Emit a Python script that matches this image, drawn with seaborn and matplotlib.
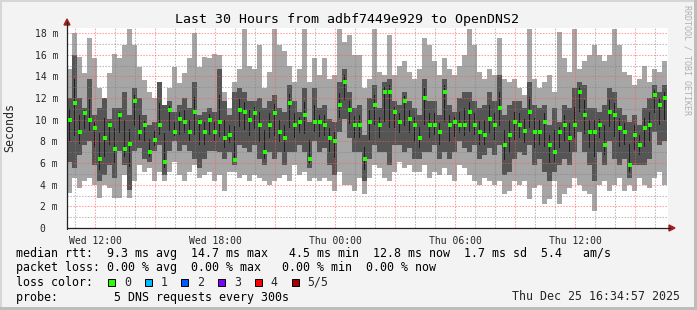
import numpy as np
import matplotlib
matplotlib.use("Agg")
import matplotlib.pyplot as plt
from matplotlib.patches import Rectangle, Polygon
from matplotlib.lines import Line2D
import seaborn as sns

# ---------------- data (ms), one value per 15-minute slot, 30 hours ----------------
ping_hi = [14.7, 18.0, 15.8, 14.3, 17.5, 15.7, 12.9, 12.0, 14.3, 16.1, 15.7, 16.9, 18.4, 16.9, 14.9,
           13.7, 12.6, 12.0, 11.0, 11.3, 12.9, 14.9, 13.4, 14.3, 15.7, 18.0, 14.9, 15.8, 15.7, 16.1,
           16.0, 12.6, 11.1, 13.5, 14.7, 18.4, 15.0, 14.7, 16.9, 12.9, 14.4, 18.4, 16.9, 16.3, 15.0,
           13.5, 14.7, 18.4, 13.5, 15.7, 14.1, 15.7, 13.8, 14.1, 18.4, 17.2, 17.8, 16.0, 16.0, 12.9,
           13.8, 18.4, 14.4, 14.1, 17.8, 14.1, 15.0, 15.4, 14.4, 13.8, 14.7, 17.5, 16.9, 15.4, 14.1,
           15.7, 14.7, 14.1, 15.0, 16.0, 18.4, 16.9, 14.4, 13.8, 14.7, 14.1, 17.5, 13.8, 13.5, 13.8,
           12.9, 12.3, 18.4, 13.8, 12.9, 13.5, 14.1, 12.6, 18.1, 15.7, 14.4, 18.4, 14.7, 15.4, 16.0,
           16.9, 16.0, 15.4, 16.0, 18.4, 16.9, 14.4, 14.1, 13.2, 13.8, 15.0, 13.5, 14.7, 14.4, 15.4]
ping_q3 = [12.0, 16.0, 12.0, 11.1, 13.8, 10.4, 11.1, 12.0, 10.1, 11.1, 11.1, 12.6, 10.4, 12.9, 12.0,
           10.4, 9.5, 9.8, 13.5, 11.4, 11.7, 10.7, 11.4, 12.0, 11.1, 13.5, 10.4, 10.7, 11.1, 10.7,
           14.7, 11.7, 10.4, 12.6, 12.9, 12.6, 11.7, 11.7, 12.0, 11.1, 11.7, 12.3, 11.1, 10.7, 13.2,
           11.7, 10.7, 12.9, 9.8, 12.9, 11.1, 11.4, 10.1, 9.8, 13.5, 14.7, 12.6, 11.1, 11.4, 8.6,
           12.0, 13.2, 11.05, 13.5, 13.8, 11.7, 11.4, 12.6, 11.7, 11.05, 10.4, 13.8, 11.7, 11.7, 10.4,
           13.8, 11.4, 10.7, 12.0, 12.6, 12.6, 11.7, 11.05, 11.4, 12.6, 11.7, 14.1, 10.4, 11.4, 11.7,
           11.7, 11.05, 13.5, 11.4, 11.05, 11.4, 9.5, 11.05, 9.8, 11.4, 11.05, 12.9, 13.5, 13.2, 11.05,
           11.05, 10.7, 11.4, 12.9, 12.6, 11.05, 10.4, 9.8, 10.4, 9.5, 11.05, 12.0, 13.2, 12.6, 13.2]
ping_med = [10.0, 11.5, 8.9, 10.6, 10.0, 9.2, 6.4, 8.3, 9.5, 7.3, 10.4, 7.3, 7.8, 11.7, 8.9,
            9.5, 7.0, 8.1, 9.5, 6.1, 10.9, 8.9, 10.1, 9.8, 8.9, 10.7, 9.8, 8.9, 10.0, 8.9,
            9.8, 8.3, 8.6, 6.3, 10.9, 10.7, 10.0, 10.6, 9.5, 7.0, 9.5, 10.6, 8.9, 8.3, 11.5,
            9.5, 9.8, 10.4, 6.4, 9.8, 9.8, 9.5, 8.3, 8.0, 11.4, 13.5, 10.9, 9.5, 9.5, 6.4,
            9.8, 11.4, 9.5, 12.6, 12.6, 10.7, 9.8, 11.7, 10.1, 9.5, 8.3, 12.0, 9.5, 9.5, 8.9,
            12.6, 9.5, 9.8, 9.5, 9.5, 10.7, 9.5, 8.9, 8.6, 10.1, 9.5, 11.05, 7.7, 8.6, 9.8,
            9.5, 9.0, 10.7, 8.9, 8.9, 9.8, 7.7, 7.05, 8.9, 9.5, 8.3, 9.5, 12.6, 10.4, 8.9,
            8.9, 9.5, 7.7, 10.7, 10.4, 9.2, 8.9, 5.8, 8.6, 7.7, 9.2, 9.5, 12.3, 11.4, 12.0]
ping_q1 = [6.1, 5.5, 6.7, 7.7, 8.0, 5.8, 4.3, 4.9, 5.8, 4.6, 7.1, 5.8, 3.5, 7.1, 7.4,
           6.4, 6.1, 7.1, 7.7, 4.9, 7.1, 8.0, 7.1, 7.7, 7.1, 6.4, 5.5, 6.4, 7.1, 7.1,
           7.05, 6.4, 7.05, 5.8, 7.7, 7.4, 7.05, 7.7, 6.4, 5.8, 7.05, 6.4, 7.05, 5.8, 7.05,
           7.05, 7.7, 7.05, 5.5, 8.0, 7.05, 7.4, 5.8, 4.9, 8.9, 10.1, 8.3, 7.05, 7.05, 4.3,
           6.4, 7.7, 7.05, 7.05, 5.8, 7.7, 7.7, 7.05, 7.4, 6.4, 6.4, 7.05, 7.05, 7.7, 6.4,
           7.05, 6.4, 7.05, 8.0, 7.4, 7.05, 7.7, 6.4, 6.7, 7.4, 6.7, 7.7, 4.9, 5.2, 6.4,
           7.05, 6.7, 7.7, 5.8, 6.4, 5.2, 4.3, 5.2, 5.8, 6.4, 5.8, 7.05, 8.9, 7.05, 5.8,
           4.3, 7.05, 5.8, 8.0, 6.4, 5.8, 6.4, 4.6, 5.8, 5.8, 5.8, 6.4, 8.9, 7.7, 8.0]
ping_lo = [3.2, 4.6, 3.7, 4.3, 4.6, 4.0, 2.8, 4.0, 3.7, 2.8, 2.8, 4.9, 2.8, 4.3, 5.8,
           5.2, 5.5, 4.3, 5.2, 4.3, 5.2, 6.1, 4.9, 4.3, 5.2, 5.8, 4.6, 4.9, 5.2, 4.3,
           4.9, 3.4, 5.2, 5.2, 4.6, 4.9, 4.3, 4.9, 4.6, 4.3, 4.0, 4.3, 4.6, 4.9, 4.3,
           5.8, 4.9, 5.2, 4.3, 4.6, 4.3, 4.6, 4.3, 3.4, 5.2, 4.0, 4.0, 3.4, 4.6, 3.1,
           4.6, 5.8, 5.5, 4.6, 4.3, 5.2, 6.1, 5.5, 5.8, 5.2, 5.2, 5.8, 4.6, 5.2, 4.9,
           5.5, 4.9, 4.3, 5.8, 5.5, 4.9, 4.3, 4.0, 4.6, 4.3, 4.0, 4.3, 3.1, 3.4, 4.3,
           4.0, 4.3, 2.7, 3.7, 4.0, 2.2, 2.7, 4.3, 2.2, 3.1, 3.7, 4.6, 4.0, 3.4, 3.1,
           1.6, 4.0, 4.3, 3.4, 4.0, 4.6, 3.4, 4.0, 3.4, 4.6, 4.0, 3.7, 4.6, 5.2, 4.0]

slot_hours = 0.25                      # width of one slot in hours
first_tick_offset = 85 / 60            # Wed 12:00 is 1h25m after the left edge
time_labels = ["Wed 12:00", "Wed 18:00", "Thu 00:00", "Thu 06:00", "Thu 12:00"]
y_ticks = [0, 2, 4, 6, 8, 10, 12, 14, 16, 18]
y_tick_labels = ["0  ", "2 m", "4 m", "6 m", "8 m", "10 m", "12 m", "14 m", "16 m", "18 m"]
loss_labels = ["0", "1", "2", "3", "4", "5/5"]
loss_colors = ["#26ff00", "#00b8ff", "#0059ff", "#7e00ff", "#ff0000", "#a00000"]

title = "Last 30 Hours from adbf7449e929 to OpenDNS2"
stat_lines = [
    "median rtt:  9.3 ms avg  14.7 ms max   4.5 ms min  12.8 ms now  1.7 ms sd  5.4   am/s",
    "packet loss: 0.00 % avg  0.00 % max   0.00 % min  0.00 % now",
    "loss color:",
    "probe:        5 DNS requests every 300s",
]
stamp = "Thu Dec 25 16:34:57 2025"
credit = "RRDTOOL / TOBI OETIKER"

# ---------------- style ----------------
sns.set_style("white")
MONO = ["DejaVu Sans Mono"]
plt.rcParams["font.family"] = MONO

W, H = 697, 310
fig = plt.figure(figsize=(W / 100, H / 100), dpi=100)
fig.patch.set_facecolor("#f3f3f3")

def fx(px):
    return px / W

def fy(py):
    return 1 - py / H

ax_left, ax_right, ax_top, ax_bot = 67, 668, 28, 228
ax = fig.add_axes([fx(ax_left), fy(ax_bot), fx(ax_right - ax_left), (ax_bot - ax_top) / H])
ax.set_facecolor("white")

n = len(ping_med)
xs = np.arange(n) * slot_hours + slot_hours / 2
hi = np.array(ping_hi); q3 = np.array(ping_q3); med = np.array(ping_med)
q1 = np.array(ping_q1); lo = np.array(ping_lo)

ax.bar(xs, hi - lo, bottom=lo, width=slot_hours, color="#a6a6a6", linewidth=0, zorder=2)
ax.bar(xs, q3 - q1, bottom=q1, width=slot_hours, color="#555555", linewidth=0, zorder=3)
core_lo = (q1 + med) / 2
core_hi = (med + q3) / 2
ax.bar(xs, core_hi - core_lo, bottom=core_lo, width=slot_hours * 0.2, color="#1e1e1e",
       linewidth=0, zorder=3.5)
sns.scatterplot(x=xs, y=med, marker="s", color=loss_colors[0], s=7, linewidth=0,
                ax=ax, zorder=6, legend=False)

xmax = (ax_right - ax_left) / 20.0
ax.set_xlim(0, xmax)
ymax = (ax_bot - ax_top) / 10.83
ax.set_ylim(0, ymax)

# grid (drawn over the data, as rrdtool does)
dots = (0, (1.4, 1.4))
major_col = (1, 0.35, 0.35, 0.6)
minor_col = (0.5, 0.5, 0.5, 0.55)
for h in np.arange(first_tick_offset - 1, xmax, 1.0):
    if h <= 0:
        continue
    major = abs(((h - first_tick_offset) / 3) - round((h - first_tick_offset) / 3)) < 1e-6
    ax.axvline(h, color=major_col if major else minor_col, lw=0.75, ls=dots, zorder=5)
for v in range(1, 19):
    ax.axhline(v, color=major_col if v % 2 == 0 else minor_col, lw=0.75, ls=dots, zorder=5)

ax.set_xticks([first_tick_offset + 6 * k for k in range(len(time_labels))])
ax.set_xticklabels(time_labels)
ax.set_xticks(np.arange(first_tick_offset - 1, xmax, 1.0)[1:], minor=True)
ax.set_yticks(y_ticks)
ax.set_yticklabels(y_tick_labels)
ax.tick_params(axis="both", which="major", labelsize=7, length=2.2, width=0.8,
               color="#333333", pad=3.2, direction="out")
ax.tick_params(axis="both", which="minor", length=1.4, width=0.6, color="#555555",
               direction="out")
ax.tick_params(axis="y", pad=4.2)
ax.grid(False)
for s in ["top", "right", "left", "bottom"]:
    ax.spines[s].set_visible(False)

# axes with arrows (figure pixel coordinates)
axis_col = "#222222"
arrow_col = "#a02020"
fig.add_artist(Line2D([fx(ax_left), fx(ax_left)], [fy(ax_bot + 0.5), fy(22)], color=axis_col,
                      lw=0.9, transform=fig.transFigure))
fig.add_artist(Line2D([fx(ax_left - 0.5), fx(670)], [fy(ax_bot), fy(ax_bot)], color=axis_col,
                      lw=0.9, transform=fig.transFigure))
fig.add_artist(Polygon([[fx(64), fy(25)], [fx(70), fy(25)], [fx(67), fy(19)]], closed=True,
                       color=arrow_col, transform=fig.transFigure))
fig.add_artist(Polygon([[fx(669), fy(225)], [fx(669), fy(231)], [fx(675), fy(228)]], closed=True,
                       color=arrow_col, transform=fig.transFigure))

fig.text(fx(10), fy(128), "Seconds", rotation=90, fontsize=8.4, ha="center", va="center")

# title
fig.text(fx(347), fy(19), title, fontsize=9.5, ha="center", va="center", color="#000000")

# legend text block
line_y = [253, 268, 282, 297]
for txt, yy in zip(stat_lines, line_y):
    fig.text(fx(16), fy(yy), txt, fontsize=8.4, ha="left", va="center", color="#000000")

for i, (lab, col) in enumerate(zip(loss_labels, loss_colors)):
    bx = 108 + 36.7 * i
    fig.add_artist(Rectangle((fx(bx), fy(286)), fx(7), 7 / H, facecolor=col,
                             edgecolor="#000000", lw=0.7, transform=fig.transFigure))
    fig.text(fx(bx + 16), fy(282), lab, fontsize=8.4, ha="left", va="center")

fig.text(fx(680), fy(297), stamp, fontsize=8.4, ha="right", va="center")
fig.text(fx(686.5), fy(5), credit, fontsize=6, rotation=270, ha="center", va="top",
         color="#b0b0b0")

# 3d frame
fig.add_artist(Rectangle((0, 1 - 2 / H), 1, 2 / H, facecolor="#d6d6d6", lw=0,
                         transform=fig.transFigure))
fig.add_artist(Rectangle((0, 0), 2 / W, 1, facecolor="#d6d6d6", lw=0,
                         transform=fig.transFigure))
fig.add_artist(Rectangle((0, 0), 1, 3 / H, facecolor="#bdbdbd", lw=0,
                         transform=fig.transFigure))
fig.add_artist(Rectangle((1 - 3 / W, 0), 3 / W, 1, facecolor="#bdbdbd", lw=0,
                         transform=fig.transFigure))

fig.savefig("out.png", dpi=100, facecolor=fig.get_facecolor())
